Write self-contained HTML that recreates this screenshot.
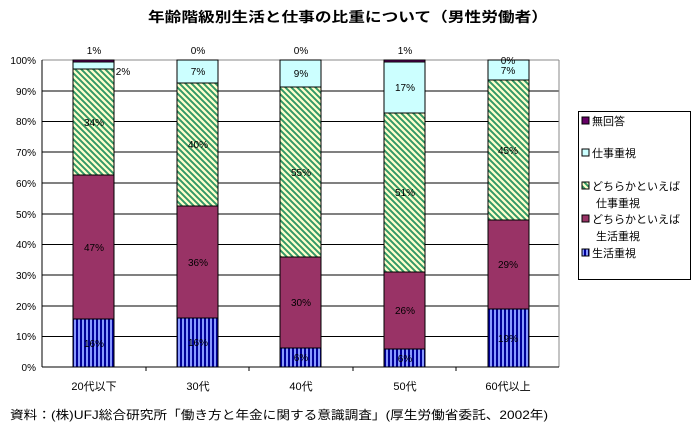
<!DOCTYPE html><html><head><meta charset="utf-8"><style>body{margin:0;background:#fff}svg text{font-family:"Liberation Sans","Noto Sans CJK JP",sans-serif}</style></head><body>
<svg width="697" height="429" viewBox="0 0 697 429" xmlns="http://www.w3.org/2000/svg">
<defs>
<pattern id="g" patternUnits="userSpaceOnUse" width="6" height="6"><rect width="6" height="6" fill="#ffffcc"/><path d="M-1,-1 L7,7 M-1,5 L1,7 M5,-1 L7,1" stroke="#339966" stroke-width="2"/></pattern>
<pattern id="b" patternUnits="userSpaceOnUse" width="4" height="4"><rect width="4" height="4" fill="#8899ff"/><rect width="2" height="4" fill="#000099"/></pattern>
</defs>
<text x="148" y="22" font-size="14" font-weight="bold" textLength="400" lengthAdjust="spacingAndGlyphs">年齢階級別生活と仕事の比重について（男性労働者）</text>
<g stroke="#000" stroke-width="1">
<line x1="42" y1="91" x2="559" y2="91"/><line x1="42" y1="121.5" x2="559" y2="121.5"/><line x1="42" y1="152" x2="559" y2="152"/><line x1="42" y1="183" x2="559" y2="183"/><line x1="42" y1="214" x2="559" y2="214"/><line x1="42" y1="244.5" x2="559" y2="244.5"/><line x1="42" y1="275" x2="559" y2="275"/><line x1="42" y1="306" x2="559" y2="306"/><line x1="42" y1="336.5" x2="559" y2="336.5"/>
</g>
<line x1="42" y1="60" x2="559" y2="60" stroke="#888"/><line x1="559" y1="60" x2="559" y2="367" stroke="#888"/>
<g font-size="10" text-anchor="end"><text x="36" y="64">100%</text><text x="36" y="95">90%</text><text x="36" y="125">80%</text><text x="36" y="156">70%</text><text x="36" y="187">60%</text><text x="36" y="218">50%</text><text x="36" y="248">40%</text><text x="36" y="279">30%</text><text x="36" y="310">20%</text><text x="36" y="340">10%</text><text x="36" y="371">0%</text></g>
<g stroke="#000" stroke-width="1">
<rect x="73" y="319" width="41" height="48" fill="url(#b)"/><rect x="73" y="175" width="41" height="144" fill="#993366"/><rect x="73" y="69" width="41" height="106" fill="url(#g)"/><rect x="73" y="62" width="41" height="7" fill="#ccffff"/><rect x="73" y="60" width="41" height="2" fill="#660066"/>
<rect x="177" y="318" width="41" height="49" fill="url(#b)"/><rect x="177" y="206" width="41" height="112" fill="#993366"/><rect x="177" y="83" width="41" height="123" fill="url(#g)"/><rect x="177" y="60" width="41" height="23" fill="#ccffff"/>
<rect x="280" y="348" width="41" height="19" fill="url(#b)"/><rect x="280" y="257" width="41" height="91" fill="#993366"/><rect x="280" y="87" width="41" height="170" fill="url(#g)"/><rect x="280" y="60" width="41" height="27" fill="#ccffff"/>
<rect x="384" y="349" width="41" height="18" fill="url(#b)"/><rect x="384" y="272" width="41" height="77" fill="#993366"/><rect x="384" y="113" width="41" height="159" fill="url(#g)"/><rect x="384" y="62" width="41" height="51" fill="#ccffff"/><rect x="384" y="60" width="41" height="2" fill="#660066"/>
<rect x="488" y="309" width="41" height="58" fill="url(#b)"/><rect x="488" y="220" width="41" height="89" fill="#993366"/><rect x="488" y="80" width="41" height="140" fill="url(#g)"/><rect x="488" y="60" width="41" height="20" fill="#ccffff"/>
</g>
<line x1="42" y1="60" x2="42" y2="367" stroke="#000"/><line x1="42" y1="367" x2="559" y2="367" stroke="#000"/>
<g stroke="#000"><line x1="146" y1="367" x2="146" y2="371"/><line x1="249" y1="367" x2="249" y2="371"/><line x1="353" y1="367" x2="353" y2="371"/><line x1="456" y1="367" x2="456" y2="371"/></g>
<g font-size="10" text-anchor="middle">
<text x="94" y="347">16%</text><text x="94" y="251">47%</text><text x="94" y="126">34%</text><text x="123" y="75">2%</text><text x="94" y="54">1%</text>
<text x="198" y="346">16%</text><text x="198" y="266">36%</text><text x="198" y="148">40%</text><text x="198" y="75">7%</text><text x="198" y="54">0%</text>
<text x="301" y="361">6%</text><text x="301" y="306">30%</text><text x="301" y="176">55%</text><text x="301" y="77">9%</text><text x="301" y="54">0%</text>
<text x="405" y="362">6%</text><text x="405" y="314">26%</text><text x="405" y="196">51%</text><text x="405" y="91">17%</text><text x="405" y="54">1%</text>
<text x="508" y="342">19%</text><text x="508" y="268">29%</text><text x="508" y="154">45%</text><text x="508" y="74">7%</text><text x="508" y="64">0%</text>
</g>
<g font-size="11" text-anchor="middle"><text x="94" y="390">20代以下</text><text x="198" y="390">30代</text><text x="301" y="390">40代</text><text x="405" y="390">50代</text><text x="508" y="390">60代以上</text></g>
<rect x="578.5" y="111.5" width="112" height="168" fill="#fff" stroke="#000"/>
<g stroke="#000"><rect x="582" y="117" width="7" height="7" fill="#660066"/><rect x="582" y="149" width="7" height="7" fill="#ccffff"/><rect x="582" y="182" width="7" height="7" fill="url(#g)"/><rect x="582" y="215" width="7" height="7" fill="#993366"/><rect x="582" y="249" width="7" height="7" fill="url(#b)"/></g>
<g font-size="11"><text x="592" y="125">無回答</text><text x="592" y="157">仕事重視</text><text x="592" y="190">どちらかといえば</text><text x="596" y="207">仕事重視</text><text x="592" y="223">どちらかといえば</text><text x="596" y="240">生活重視</text><text x="592" y="257">生活重視</text></g>
<text x="10" y="419" font-size="12" textLength="538" lengthAdjust="spacingAndGlyphs">資料：(株)UFJ総合研究所「働き方と年金に関する意識調査」(厚生労働省委託、2002年)</text>
</svg></body></html>
